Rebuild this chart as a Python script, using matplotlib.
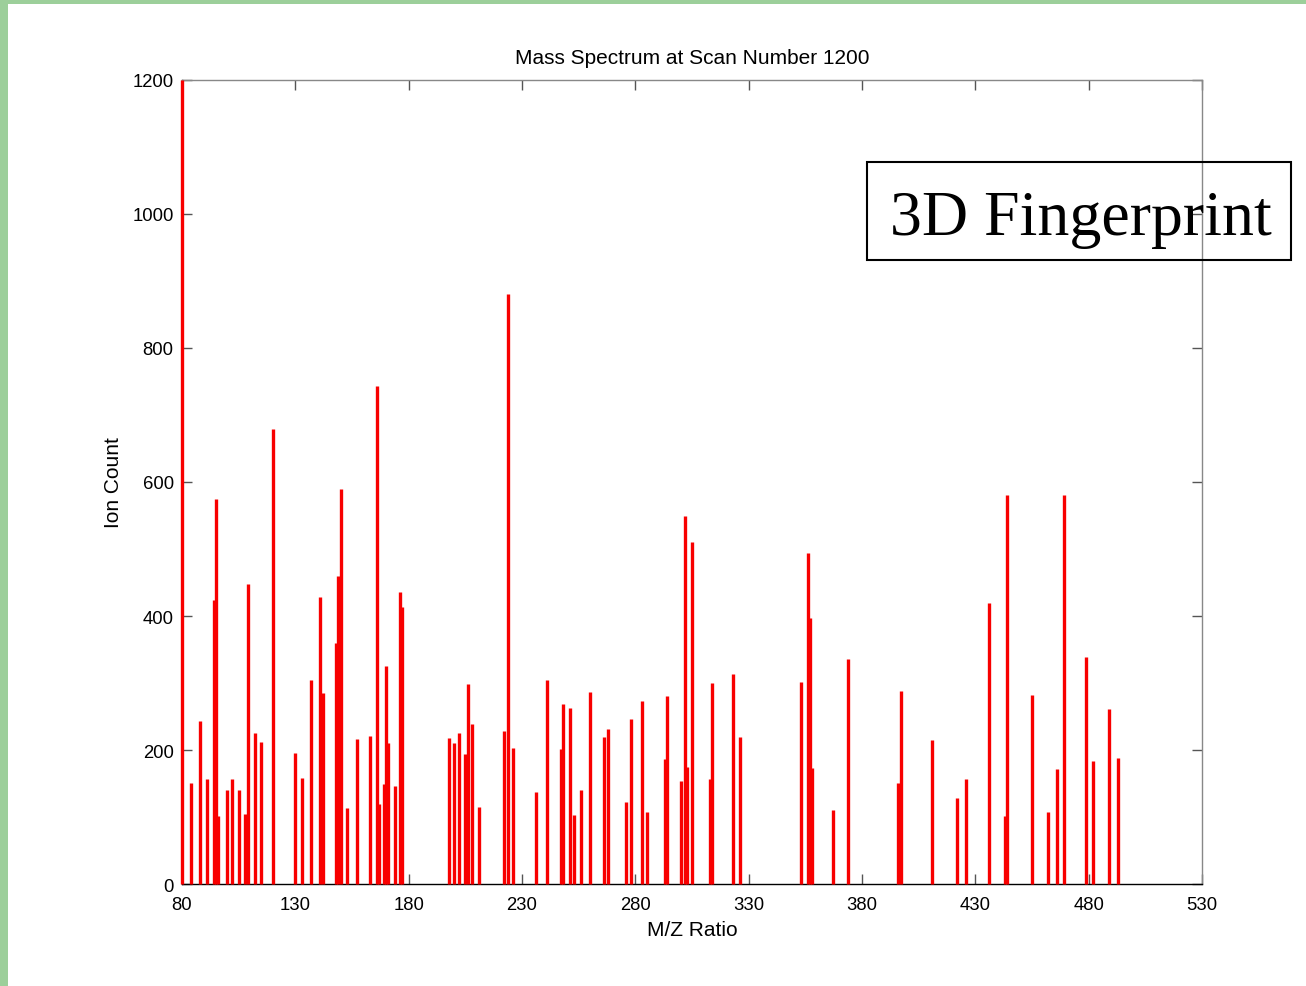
import matplotlib
matplotlib.use("Agg")
import matplotlib.pyplot as plt
from matplotlib.patches import Rectangle

# ---- data ----
mz_values = [80, 84, 88, 91, 94, 95, 96, 100, 102, 105, 108, 109, 112, 115, 120,
             130, 133, 137, 141, 142, 148, 149, 150, 153, 157, 163, 166, 167, 169,
             170, 171, 174, 176, 177,
             198, 200, 202, 205, 206, 208, 211, 222, 224, 226, 236, 241, 247, 248,
             251, 253, 256, 260, 266, 268, 276, 278, 283, 285, 293, 294, 300, 302,
             303, 305, 313, 314, 323, 326,
             353, 356, 357, 358, 367, 374, 396, 397, 411, 422, 426, 436, 443, 444,
             455, 462, 466, 469, 479, 482, 489, 493]
ion_counts = [1200, 151, 244, 156, 424, 575, 102, 140, 156, 141, 104, 448, 225, 212, 679,
              195, 158, 304, 429, 285, 359, 459, 589, 113, 217, 221, 743, 120, 150,
              326, 210, 146, 436, 413,
              218, 211, 226, 194, 298, 239, 115, 228, 880, 203, 138, 305, 201, 268,
              262, 103, 141, 286, 220, 232, 123, 247, 273, 107, 186, 280, 153, 550,
              174, 511, 157, 300, 314, 220,
              301, 494, 397, 173, 111, 336, 151, 288, 215, 128, 156, 420, 102, 580,
              282, 107, 171, 581, 339, 183, 261, 188]
x_ticks = [80, 130, 180, 230, 280, 330, 380, 430, 480, 530]
y_ticks = [0, 200, 400, 600, 800, 1000, 1200]
title = "Mass Spectrum at Scan Number 1200"
x_label = "M/Z Ratio"
y_label = "Ion Count"
badge = "3D Fingerprint"

W, H = 1306, 987
fig = plt.figure(figsize=(W / 100, H / 100), dpi=100)
fig.patch.set_facecolor("white")

# green frame strips
green = "#9ccf9a"
fig.patches.append(Rectangle((0, 1 - 5 / H), 1, 5 / H, transform=fig.transFigure,
                             facecolor=green, edgecolor="none", zorder=0))
fig.patches.append(Rectangle((0, 0), 8 / W, 1, transform=fig.transFigure,
                             facecolor=green, edgecolor="none", zorder=0))

ax = fig.add_axes([182 / W, 1 - 885 / H, (1202 - 182) / W, (885 - 81) / H])
ax.vlines(mz_values, 0, ion_counts, colors="#f80000", linewidth=2.4, zorder=3,
          clip_on=False)

ax.set_xlim(80, 530)
ax.set_ylim(0, 1200)
ax.set_xticks(x_ticks)
ax.set_yticks(y_ticks)

font = "Liberation Sans"
ax.set_xticklabels([str(t) for t in x_ticks], fontfamily=font, fontsize=13.3)
ax.set_yticklabels([str(t) for t in y_ticks], fontfamily=font, fontsize=13.3)
ax.tick_params(axis="both", direction="in", length=7, width=1, top=True, right=True,
               color="#555555")
ax.tick_params(axis="x", pad=9)
ax.tick_params(axis="y", pad=6)

for side in ["top", "right"]:
    ax.spines[side].set_color("#888888")
    ax.spines[side].set_linewidth(1.0)
for side in ["bottom", "left"]:
    ax.spines[side].set_color("black")
    ax.spines[side].set_linewidth(1.0)

ax.set_title(title, fontfamily=font, fontsize=15, pad=12)
ax.set_xlabel(x_label, fontfamily=font, fontsize=15, labelpad=5)
ax.set_ylabel(y_label, fontfamily=font, fontsize=15, labelpad=7)

# badge box
fig.patches.append(Rectangle((867 / W, 1 - 261 / H), (1291 - 867) / W, (261 - 163) / H,
                             transform=fig.transFigure, facecolor="none",
                             edgecolor="black", linewidth=1.5, zorder=5))
fig.text(890 / W, 1 - 235 / H, badge, fontfamily="Liberation Serif", fontsize=46,
         ha="left", va="baseline", color="black", zorder=6)

fig.savefig("out.png", dpi=100)
